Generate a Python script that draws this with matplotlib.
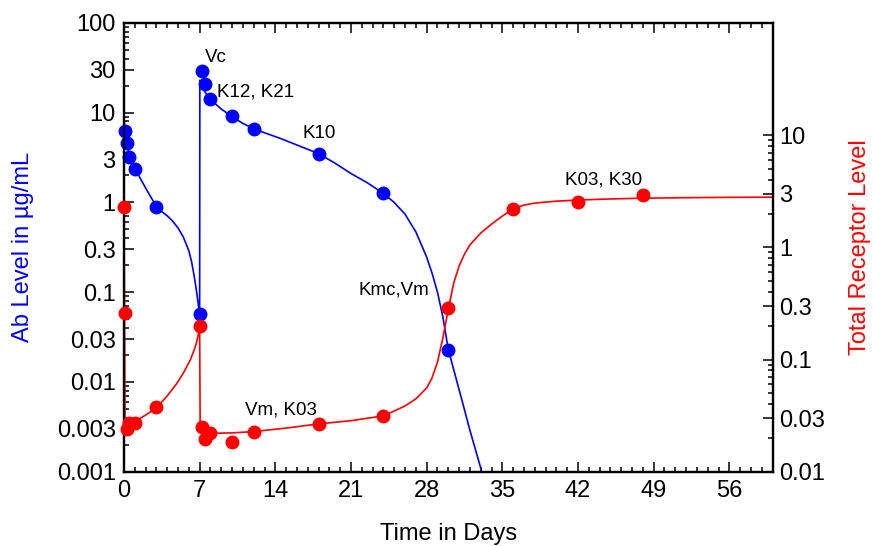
import matplotlib
matplotlib.use("Agg")
import matplotlib.pyplot as plt
from matplotlib.ticker import FixedLocator, NullFormatter, MultipleLocator

plt.rcParams["font.family"] = ["Liberation Sans", "DejaVu Sans"]

BLUE = "#0000ff"
RED = "#ff0000"

# ---------------------------------------------------------------------------
# Data
# ---------------------------------------------------------------------------

# Ab level, observed (left axis, ug/mL)
ab_days = [0.08, 0.25, 0.5, 1, 3, 7, 7.25, 7.5, 8, 10, 12, 18, 24, 30]
ab_obs = [6.3, 4.6, 3.17, 2.33, 0.88, 0.057, 29, 21, 14.1, 9.1, 6.5, 3.5, 1.26, 0.023]

# Ab level, fitted curve
ab_fit_days = [0, 0.08, 0.25, 0.5, 1, 2, 3, 3.5, 4, 4.5, 5, 5.5, 6, 6.25,
               6.5, 6.7, 6.85, 7.0, 7.02, 7.25, 7.5, 8, 9, 10, 11, 12, 14.5,
               18, 19.5, 21, 22.5, 24, 25, 26, 27, 28, 28.5, 29, 29.5, 30,
               31.5, 32, 33.1]
ab_fit = [9.0, 6.4, 4.7, 3.3, 2.4, 1.45, 0.9, 0.79, 0.71, 0.62, 0.52, 0.41,
          0.29, 0.22, 0.15, 0.105, 0.077, 0.057, 23, 19.5, 17, 14, 11, 9.0,
          7.6, 6.6, 5.15, 3.5, 2.75, 2.1, 1.66, 1.26, 1.0, 0.74, 0.47, 0.246,
          0.163, 0.10, 0.053, 0.023, 0.0049, 0.0029, 0.001]

# Total receptor level, observed (right axis)
rec_days = [0, 0.08, 0.25, 0.5, 1, 3, 7, 7.25, 7.5, 8, 10, 12, 18, 24, 30, 36, 42, 48]
rec_obs = [2.3, 0.26, 0.024, 0.027, 0.0273, 0.0376, 0.2, 0.025, 0.0195, 0.022,
           0.0186, 0.0225, 0.0267, 0.0315, 0.286, 2.19, 2.52, 2.92]

# Total receptor level, fitted curve
rec_fit_days = [0, 0.1, 0.25, 0.5, 1, 2, 3, 4, 4.9, 5.5, 6.13, 6.5, 6.7,
                6.85, 7.0, 7.05, 8, 10, 12, 15, 18, 21, 24, 25, 26, 27, 28,
                28.5, 29, 29.5, 30, 30.5, 31, 31.5, 32, 33, 34, 35, 36, 37,
                38, 40, 42, 45, 48, 52, 56, 60]
rec_fit = [2.5, 0.024, 0.026, 0.027, 0.028, 0.032, 0.037, 0.0474, 0.0615,
           0.076, 0.099, 0.122, 0.14, 0.162, 0.2, 0.0235, 0.022, 0.0222,
           0.0228, 0.0245, 0.0267, 0.0285, 0.0315, 0.0348, 0.0386, 0.0446,
           0.0558, 0.0686, 0.095, 0.156, 0.28, 0.48, 0.68, 0.87, 1.05, 1.34,
           1.61, 1.90, 2.2, 2.38, 2.48, 2.58, 2.64, 2.7, 2.74, 2.77, 2.79, 2.8]

left_ticks = [0.001, 0.003, 0.01, 0.03, 0.1, 0.3, 1, 3, 10, 30, 100]
left_labels = ["0.001", "0.003", "0.01", "0.03", "0.1", "0.3", "1", "3", "10", "30", "100"]
right_ticks = [0.01, 0.03, 0.1, 0.3, 1, 3, 10]
right_labels = ["0.01", "0.03", "0.1", "0.3", "1", "3", "10"]
x_ticks = [0, 7, 14, 21, 28, 35, 42, 49, 56]

# (text, day, ab-level) placed in left-axis coordinates
annotations = [
    ("Vc", 7.5, 41),
    ("K12, K21", 8.6, 16.9),
    ("K10", 16.5, 5.9),
    ("Kmc,Vm", 21.7, 0.105),
    ("Vm, K03", 11.2, 0.0049),
    ("K03, K30", 40.8, 1.77),
]


def minor_log(lo_exp, hi_exp, skip=(1, 3)):
    vals = []
    for e in range(lo_exp, hi_exp):
        for m in range(2, 10):
            if m not in skip:
                vals.append(m * 10.0 ** e)
    return vals


fig = plt.figure(figsize=(8.73, 5.46), dpi=100)
ax = fig.add_axes([0.142, 0.136, 0.743, 0.822])
ax2 = ax.twinx()

tick_kw = dict(direction="in", width=1.1, labelsize=17, colors="black")

# ── Left axis: Ab level ───────────────────────────────────────────────────
ax.plot(ab_fit_days, ab_fit, color=BLUE, lw=1.2, zorder=2)
ax.plot(ab_days, ab_obs, "o", color=BLUE, ms=9, clip_on=False, zorder=3)
ax.set_yscale("log")
ax.set_ylim(0.001, 100)
ax.set_xlim(0, 60)
ax.yaxis.set_major_locator(FixedLocator(left_ticks))
ax.set_yticklabels(left_labels)
ax.yaxis.set_minor_locator(FixedLocator(minor_log(-3, 2)))
ax.yaxis.set_minor_formatter(NullFormatter())
ax.xaxis.set_major_locator(MultipleLocator(7))
ax.xaxis.set_minor_locator(MultipleLocator(1))
ax.tick_params(axis="both", which="major", length=7.5, pad=6, **tick_kw)
ax.tick_params(axis="both", which="minor", length=3.8, width=1.1, direction="in")
ax.tick_params(axis="x", top=True, which="both")
ax.tick_params(axis="y", right=False, which="both")
ax.set_xticks(x_ticks)
ax.set_xlabel("Time in Days", fontsize=17, labelpad=15)
ax.set_ylabel("Ab Level in µg/mL", fontsize=17, color=BLUE, labelpad=16)

for txt, d, v in annotations:
    ax.text(d, v, txt, fontsize=13.5, ha="left", va="center", color="black")

# ── Right axis: receptor level ────────────────────────────────────────────
ax2.plot(rec_fit_days, rec_fit, color=RED, lw=1.2, zorder=2)
ax2.plot(rec_days, rec_obs, "o", color=RED, ms=9, clip_on=False, zorder=3)
ax2.set_yscale("log")
ax2.set_ylim(0.01, 100)
ax2.yaxis.set_major_locator(FixedLocator(right_ticks))
ax2.set_yticklabels(right_labels)
ax2.yaxis.set_minor_locator(FixedLocator(minor_log(-2, 1)))
ax2.yaxis.set_minor_formatter(NullFormatter())
ax2.tick_params(axis="y", which="major", length=7.5, pad=5, **tick_kw)
ax2.tick_params(axis="y", which="minor", length=3.8, width=1.1, direction="in")
ax2.set_ylabel("Total Receptor Level", fontsize=17, color=RED, labelpad=17)

for a in (ax, ax2):
    for s in a.spines.values():
        s.set_linewidth(1.6)

fig.savefig("out.png", dpi=100)
